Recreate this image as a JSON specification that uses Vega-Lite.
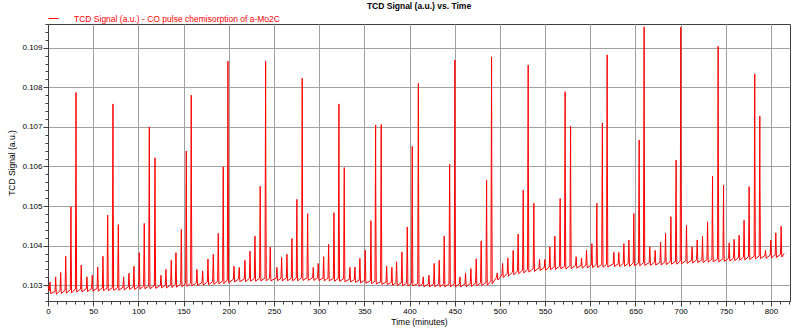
{
"$schema": "https://vega.github.io/schema/vega-lite/v6.json",
"width": 742, "height": 277,
"autosize": {"type": "none"},
"padding": {"left": 48, "top": 24, "right": 10, "bottom": 33},
"background": "white",
"config": {"font": "Liberation Sans", "view": {"stroke": "#404040", "strokeWidth": 1}},
"title": {"text": "TCD Signal (a.u.) vs. Time", "fontSize": 8.5, "fontWeight": "bold", "color": "#000000", "anchor": "middle", "offset": 3},
"data": {"values": [
{"t":0,"v":0.10298},
{"t":1.5,"v":0.10286},{"t":2.2,"v":0.10308},{"t":2.9,"v":0.10279},
{"t":7.8,"v":0.10284},{"t":8.5,"v":0.10321},{"t":9.2,"v":0.10277},
{"t":13.3,"v":0.10286},{"t":14.0,"v":0.10332},{"t":14.7,"v":0.10279},
{"t":18.9,"v":0.10287},{"t":19.6,"v":0.10373},{"t":20.3,"v":0.1028},
{"t":24.7,"v":0.10288},{"t":25.4,"v":0.10498},{"t":25.6,"v":0.10399},{"t":26.1,"v":0.10281},
{"t":30.3,"v":0.1029},{"t":31.0,"v":0.10787},{"t":31.2,"v":0.1054},{"t":31.7,"v":0.10283},
{"t":36.1,"v":0.1029},{"t":36.8,"v":0.10351},{"t":37.5,"v":0.10283},
{"t":42.4,"v":0.10291},{"t":43.1,"v":0.10321},{"t":43.8,"v":0.10284},
{"t":48.3,"v":0.10292},{"t":49.0,"v":0.10325},{"t":49.7,"v":0.10285},
{"t":54.3,"v":0.10292},{"t":55.0,"v":0.10346},{"t":55.7,"v":0.10285},
{"t":60.1,"v":0.10293},{"t":60.8,"v":0.10373},{"t":61.5,"v":0.10286},
{"t":65.3,"v":0.10293},{"t":66.0,"v":0.10477},{"t":66.7,"v":0.10286},
{"t":71.2,"v":0.10294},{"t":71.7,"v":0.10639},{"t":71.9,"v":0.10758},{"t":72.1,"v":0.10533},{"t":72.6,"v":0.10287},
{"t":77.1,"v":0.10294},{"t":77.8,"v":0.10453},{"t":78.0,"v":0.10405},{"t":78.5,"v":0.10287},
{"t":83.0,"v":0.10295},{"t":83.7,"v":0.10321},{"t":84.4,"v":0.10288},
{"t":88.9,"v":0.10296},{"t":89.6,"v":0.1033},{"t":90.3,"v":0.10289},
{"t":94.4,"v":0.10296},{"t":95.1,"v":0.10348},{"t":95.8,"v":0.10289},
{"t":100.3,"v":0.10297},{"t":101.0,"v":0.10382},{"t":101.7,"v":0.1029},
{"t":105.8,"v":0.10298},{"t":106.5,"v":0.10456},{"t":107.2,"v":0.10291},
{"t":111.4,"v":0.10298},{"t":112.1,"v":0.107},{"t":112.3,"v":0.10508},{"t":112.8,"v":0.10291},
{"t":117.7,"v":0.10299},{"t":118.4,"v":0.10622},{"t":118.6,"v":0.10471},{"t":119.1,"v":0.10292},
{"t":124.3,"v":0.103},{"t":125.0,"v":0.10325},{"t":125.7,"v":0.10293},
{"t":129.8,"v":0.103},{"t":130.5,"v":0.1034},{"t":131.2,"v":0.10293},
{"t":135.7,"v":0.10301},{"t":136.4,"v":0.10363},{"t":137.1,"v":0.10294},
{"t":140.9,"v":0.10302},{"t":141.6,"v":0.10382},{"t":142.3,"v":0.10295},
{"t":146.8,"v":0.10303},{"t":147.5,"v":0.10441},{"t":148.2,"v":0.10296},
{"t":152.3,"v":0.10304},{"t":153.0,"v":0.10639},{"t":153.2,"v":0.10483},{"t":153.7,"v":0.10297},
{"t":157.8,"v":0.10305},{"t":158.5,"v":0.1078},{"t":158.7,"v":0.10553},{"t":159.2,"v":0.10298},
{"t":164.1,"v":0.10306},{"t":164.8,"v":0.1034},{"t":165.5,"v":0.10299},
{"t":170.4,"v":0.10307},{"t":171.1,"v":0.10336},{"t":171.8,"v":0.103},
{"t":176.3,"v":0.10308},{"t":177.0,"v":0.10366},{"t":177.7,"v":0.10301},
{"t":182.2,"v":0.10309},{"t":182.9,"v":0.10378},{"t":183.6,"v":0.10302},
{"t":187.7,"v":0.1031},{"t":188.4,"v":0.10431},{"t":189.1,"v":0.10303},
{"t":193.2,"v":0.10311},{"t":193.9,"v":0.10599},{"t":194.1,"v":0.10466},{"t":194.6,"v":0.10304},
{"t":198.4,"v":0.10313},{"t":199.1,"v":0.10866},{"t":199.3,"v":0.10734},{"t":199.8,"v":0.10306},
{"t":205.1,"v":0.10315},{"t":205.8,"v":0.10348},{"t":206.5,"v":0.10308},
{"t":210.9,"v":0.10316},{"t":211.6,"v":0.10345},{"t":212.3,"v":0.10309},
{"t":217.2,"v":0.10316},{"t":217.9,"v":0.10363},{"t":218.6,"v":0.10309},
{"t":222.8,"v":0.10317},{"t":223.5,"v":0.10386},{"t":224.2,"v":0.1031},
{"t":228.3,"v":0.10317},{"t":229.0,"v":0.10424},{"t":229.7,"v":0.1031},
{"t":234.1,"v":0.10318},{"t":234.8,"v":0.1055},{"t":235.0,"v":0.10441},{"t":235.5,"v":0.10311},
{"t":240.1,"v":0.10318},{"t":240.8,"v":0.10866},{"t":241.0,"v":0.10603},{"t":241.5,"v":0.10311},
{"t":245.2,"v":0.10318},{"t":245.9,"v":0.10396},{"t":246.6,"v":0.10311},
{"t":252.6,"v":0.10318},{"t":253.3,"v":0.10345},{"t":254.0,"v":0.10311},
{"t":257.8,"v":0.10318},{"t":258.5,"v":0.1037},{"t":259.2,"v":0.10311},
{"t":263.7,"v":0.10318},{"t":264.4,"v":0.10378},{"t":265.1,"v":0.10311},
{"t":269.2,"v":0.10318},{"t":269.9,"v":0.10418},{"t":270.6,"v":0.10311},
{"t":274.7,"v":0.10318},{"t":275.4,"v":0.10517},{"t":275.6,"v":0.10415},{"t":276.1,"v":0.10311},
{"t":280.6,"v":0.10319},{"t":281.3,"v":0.10823},{"t":281.5,"v":0.10578},{"t":282.0,"v":0.10312},
{"t":286.6,"v":0.10319},{"t":287.3,"v":0.10481},{"t":287.5,"v":0.104},{"t":288.0,"v":0.10312},
{"t":292.8,"v":0.10319},{"t":293.5,"v":0.10345},{"t":294.2,"v":0.10312},
{"t":298.3,"v":0.10319},{"t":299.0,"v":0.10355},{"t":299.7,"v":0.10312},
{"t":304.3,"v":0.10318},{"t":305.0,"v":0.10372},{"t":305.7,"v":0.10311},
{"t":309.8,"v":0.10318},{"t":310.5,"v":0.10403},{"t":311.2,"v":0.10311},
{"t":315.7,"v":0.10317},{"t":316.4,"v":0.10483},{"t":317.1,"v":0.1031},
{"t":321.2,"v":0.10317},{"t":321.9,"v":0.10758},{"t":322.1,"v":0.10536},{"t":322.6,"v":0.1031},
{"t":327.1,"v":0.10316},{"t":327.8,"v":0.10597},{"t":328.0,"v":0.10456},{"t":328.5,"v":0.10309},
{"t":333.4,"v":0.10315},{"t":334.1,"v":0.10345},{"t":334.8,"v":0.10308},
{"t":338.9,"v":0.10314},{"t":339.6,"v":0.10346},{"t":340.3,"v":0.10307},
{"t":344.4,"v":0.10313},{"t":345.1,"v":0.10368},{"t":345.8,"v":0.10306},
{"t":350.3,"v":0.10312},{"t":351.0,"v":0.10388},{"t":351.7,"v":0.10305},
{"t":356.6,"v":0.10311},{"t":357.3,"v":0.10463},{"t":358.0,"v":0.10304},
{"t":361.8,"v":0.1031},{"t":362.5,"v":0.10705},{"t":362.7,"v":0.10515},{"t":363.2,"v":0.10303},
{"t":368.0,"v":0.10309},{"t":368.7,"v":0.10706},{"t":368.9,"v":0.10502},{"t":369.4,"v":0.10302},
{"t":374.0,"v":0.10308},{"t":374.7,"v":0.10348},{"t":375.4,"v":0.10301},
{"t":379.8,"v":0.10307},{"t":380.5,"v":0.10345},{"t":381.2,"v":0.103},
{"t":385.0,"v":0.10306},{"t":385.7,"v":0.10359},{"t":386.4,"v":0.10299},
{"t":390.9,"v":0.10306},{"t":391.6,"v":0.10384},{"t":392.3,"v":0.10299},
{"t":396.8,"v":0.10305},{"t":397.5,"v":0.10447},{"t":398.2,"v":0.10298},
{"t":402.3,"v":0.10305},{"t":403.0,"v":0.10651},{"t":403.2,"v":0.10485},{"t":403.7,"v":0.10298},
{"t":409.1,"v":0.10304},{"t":409.8,"v":0.1081},{"t":410.0,"v":0.10565},{"t":410.5,"v":0.10297},
{"t":414.5,"v":0.10303},{"t":415.2,"v":0.10321},{"t":415.9,"v":0.10296},
{"t":420.8,"v":0.10303},{"t":421.5,"v":0.10325},{"t":422.2,"v":0.10296},
{"t":426.6,"v":0.10303},{"t":427.3,"v":0.10355},{"t":428.0,"v":0.10296},
{"t":432.2,"v":0.10303},{"t":432.9,"v":0.10363},{"t":433.6,"v":0.10296},
{"t":437.7,"v":0.10303},{"t":438.4,"v":0.10424},{"t":439.1,"v":0.10296},
{"t":443.7,"v":0.10303},{"t":444.4,"v":0.10606},{"t":444.6,"v":0.10532},{"t":445.1,"v":0.10296},
{"t":449.5,"v":0.10303},{"t":450.2,"v":0.10869},{"t":450.4,"v":0.10584},{"t":450.9,"v":0.10296},
{"t":455.1,"v":0.10303},{"t":455.8,"v":0.10321},{"t":456.5,"v":0.10296},
{"t":461.3,"v":0.10303},{"t":462.0,"v":0.10331},{"t":462.7,"v":0.10296},
{"t":467.2,"v":0.10304},{"t":467.9,"v":0.10342},{"t":468.6,"v":0.10297},
{"t":473.1,"v":0.10305},{"t":473.8,"v":0.10367},{"t":474.5,"v":0.10298},
{"t":478.6,"v":0.10306},{"t":479.3,"v":0.10412},{"t":480.0,"v":0.10299},
{"t":484.6,"v":0.10307},{"t":485.3,"v":0.10565},{"t":485.5,"v":0.10439},{"t":486.0,"v":0.103},
{"t":490.1,"v":0.1031},{"t":490.8,"v":0.10877},{"t":491.0,"v":0.10593},{"t":491.5,"v":0.10303},
{"t":496.3,"v":0.1032},{"t":497.0,"v":0.10331},{"t":497.7,"v":0.10313},
{"t":502.3,"v":0.10326},{"t":503.0,"v":0.10355},{"t":503.7,"v":0.10319},
{"t":508.1,"v":0.1033},{"t":508.8,"v":0.10369},{"t":509.5,"v":0.10323},
{"t":514.0,"v":0.10333},{"t":514.7,"v":0.10388},{"t":515.4,"v":0.10326},
{"t":519.5,"v":0.10336},{"t":520.2,"v":0.10429},{"t":520.9,"v":0.10329},
{"t":525.1,"v":0.10338},{"t":525.8,"v":0.1054},{"t":526.0,"v":0.10443},{"t":526.5,"v":0.10331},
{"t":530.6,"v":0.1034},{"t":531.3,"v":0.10856},{"t":531.5,"v":0.10603},{"t":532.0,"v":0.10333},
{"t":536.9,"v":0.10342},{"t":537.6,"v":0.10507},{"t":537.8,"v":0.10422},{"t":538.3,"v":0.10335},
{"t":543.2,"v":0.10344},{"t":543.9,"v":0.10365},{"t":544.6,"v":0.10337},
{"t":549.1,"v":0.10345},{"t":549.8,"v":0.10365},{"t":550.5,"v":0.10338},
{"t":554.6,"v":0.10346},{"t":555.3,"v":0.10397},{"t":556.0,"v":0.10339},
{"t":560.1,"v":0.10347},{"t":560.8,"v":0.10424},{"t":561.5,"v":0.1034},
{"t":566.0,"v":0.10348},{"t":566.7,"v":0.10519},{"t":566.9,"v":0.10439},{"t":567.4,"v":0.10341},
{"t":571.5,"v":0.10348},{"t":572.0,"v":0.10684},{"t":572.2,"v":0.10789},{"t":572.4,"v":0.10565},{"t":572.9,"v":0.10341},
{"t":577.5,"v":0.10349},{"t":578.2,"v":0.10702},{"t":578.4,"v":0.10532},{"t":578.9,"v":0.10342},
{"t":583.7,"v":0.1035},{"t":584.4,"v":0.10372},{"t":585.1,"v":0.10343},
{"t":589.7,"v":0.1035},{"t":590.4,"v":0.10368},{"t":591.1,"v":0.10343},
{"t":595.2,"v":0.10351},{"t":595.9,"v":0.10388},{"t":596.6,"v":0.10344},
{"t":601.1,"v":0.10351},{"t":601.8,"v":0.10405},{"t":602.5,"v":0.10344},
{"t":606.6,"v":0.10352},{"t":607.3,"v":0.10507},{"t":607.5,"v":0.1042},{"t":608.0,"v":0.10345},
{"t":612.7,"v":0.10352},{"t":613.4,"v":0.1071},{"t":613.6,"v":0.10542},{"t":614.1,"v":0.10345},
{"t":618.0,"v":0.10353},{"t":618.7,"v":0.10882},{"t":618.9,"v":0.10629},{"t":619.4,"v":0.10346},
{"t":625.4,"v":0.10354},{"t":626.1,"v":0.10383},{"t":626.8,"v":0.10347},
{"t":630.9,"v":0.10354},{"t":631.6,"v":0.10383},{"t":632.3,"v":0.10347},
{"t":636.5,"v":0.10355},{"t":637.2,"v":0.10405},{"t":637.9,"v":0.10348},
{"t":642.0,"v":0.10355},{"t":642.7,"v":0.10414},{"t":643.4,"v":0.10348},
{"t":647.5,"v":0.10356},{"t":648.2,"v":0.10481},{"t":648.9,"v":0.10349},
{"t":653.4,"v":0.10356},{"t":654.1,"v":0.10667},{"t":654.3,"v":0.10515},{"t":654.8,"v":0.10349},
{"t":658.9,"v":0.10357},{"t":659.6,"v":0.10953},{"t":659.8,"v":0.10667},{"t":660.3,"v":0.1035},
{"t":665.2,"v":0.10357},{"t":665.9,"v":0.10397},{"t":666.6,"v":0.1035},
{"t":671.1,"v":0.10358},{"t":671.8,"v":0.10388},{"t":672.5,"v":0.10351},
{"t":677.1,"v":0.10358},{"t":677.8,"v":0.10409},{"t":678.5,"v":0.10351},
{"t":682.6,"v":0.10359},{"t":683.3,"v":0.10431},{"t":684.0,"v":0.10352},
{"t":688.5,"v":0.1036},{"t":689.2,"v":0.10473},{"t":689.9,"v":0.10353},
{"t":694.3,"v":0.1036},{"t":695.0,"v":0.10616},{"t":695.2,"v":0.1049},{"t":695.7,"v":0.10353},
{"t":699.5,"v":0.10361},{"t":700.0,"v":0.1081},{"t":700.2,"v":0.10952},{"t":700.4,"v":0.10658},{"t":700.9,"v":0.10354},
{"t":705.8,"v":0.10362},{"t":706.5,"v":0.10452},{"t":706.7,"v":0.1042},{"t":707.2,"v":0.10355},
{"t":712.0,"v":0.10363},{"t":712.7,"v":0.10397},{"t":713.4,"v":0.10356},
{"t":717.6,"v":0.10364},{"t":718.3,"v":0.10414},{"t":719.0,"v":0.10357},
{"t":723.5,"v":0.10364},{"t":724.2,"v":0.10424},{"t":724.9,"v":0.10357},
{"t":729.1,"v":0.10365},{"t":729.8,"v":0.1046},{"t":730.5,"v":0.10358},
{"t":734.6,"v":0.10366},{"t":735.3,"v":0.10576},{"t":735.5,"v":0.1046},{"t":736.0,"v":0.10359},
{"t":740.8,"v":0.10366},{"t":741.5,"v":0.10904},{"t":741.7,"v":0.10641},{"t":742.2,"v":0.10359},
{"t":746.8,"v":0.10367},{"t":747.5,"v":0.10553},{"t":747.7,"v":0.1044},{"t":748.2,"v":0.1036},
{"t":753.0,"v":0.10368},{"t":753.7,"v":0.10407},{"t":754.4,"v":0.10361},
{"t":758.5,"v":0.10369},{"t":759.2,"v":0.10416},{"t":759.9,"v":0.10362},
{"t":764.0,"v":0.1037},{"t":764.7,"v":0.10426},{"t":765.4,"v":0.10363},
{"t":769.5,"v":0.10371},{"t":770.2,"v":0.10464},{"t":770.9,"v":0.10364},
{"t":775.1,"v":0.10372},{"t":775.8,"v":0.10549},{"t":776.0,"v":0.10455},{"t":776.5,"v":0.10365},
{"t":781.3,"v":0.10373},{"t":782.0,"v":0.10834},{"t":782.2,"v":0.10612},{"t":782.7,"v":0.10366},
{"t":786.9,"v":0.10374},{"t":787.6,"v":0.10727},{"t":787.8,"v":0.10561},{"t":788.3,"v":0.10367},
{"t":793.2,"v":0.10375},{"t":793.9,"v":0.10388},{"t":794.6,"v":0.10368},
{"t":799.1,"v":0.10376},{"t":799.8,"v":0.10414},{"t":800.5,"v":0.10369},
{"t":804.6,"v":0.10377},{"t":805.3,"v":0.10432},{"t":806.0,"v":0.1037},
{"t":810.5,"v":0.10378},{"t":811.2,"v":0.10449},{"t":811.9,"v":0.10371},
{"t":814.5,"v":0.1038}
]},
"mark": {"type": "line", "strokeWidth": 1, "interpolate": "linear"},
"encoding": {
  "x": {"field": "t", "type": "quantitative", "sort": null,
    "scale": {"domain": [0, 821], "nice": false, "zero": false},
    "axis": {"title": "Time (minutes)", "titleFontSize": 8.5, "titleFontWeight": "normal", "titleColor": "#000000", "titlePadding": 2,
      "values": [0,10,20,30,40,50,60,70,80,90,100,110,120,130,140,150,160,170,180,190,200,210,220,230,240,250,260,270,280,290,300,310,320,330,340,350,360,370,380,390,400,410,420,430,440,450,460,470,480,490,500,510,520,530,540,550,560,570,580,590,600,610,620,630,640,650,660,670,680,690,700,710,720,730,740,750,760,770,780,790,800,810,820],
      "labelExpr": "datum.value % 50 === 0 ? datum.label : ''", "format": "d",
      "labelFontSize": 8, "labelColor": "#000000", "labelPadding": 1, "labelOverlap": false, "labelFlush": false,
      "tickSize": {"condition": {"test": "datum.value % 50 === 0", "value": 5}, "value": 3},
      "tickColor": "#404040", "domainColor": "#404040",
      "grid": true, "gridColor": "#a0a0a0", "gridWidth": 1,
      "gridOpacity": {"condition": {"test": "datum.value % 50 === 0", "value": 1}, "value": 0}}},
  "y": {"field": "v", "type": "quantitative",
    "scale": {"domain": [0.1026, 0.1096], "nice": false, "zero": false},
    "axis": {"title": "TCD Signal (a.u.)", "titleFontSize": 8.5, "titleFontWeight": "normal", "titleColor": "#000000", "titlePadding": 5,
      "values": [0.1026,0.1028,0.103,0.1032,0.1034,0.1036,0.1038,0.104,0.1042,0.1044,0.1046,0.1048,0.105,0.1052,0.1054,0.1056,0.1058,0.106,0.1062,0.1064,0.1066,0.1068,0.107,0.1072,0.1074,0.1076,0.1078,0.108,0.1082,0.1084,0.1086,0.1088,0.109,0.1092,0.1094,0.1096],
      "labelExpr": "abs(datum.value*1000 - round(datum.value*1000)) < 0.001 ? format(datum.value, '.3f') : ''",
      "labelFontSize": 8, "labelColor": "#000000", "labelPadding": 1, "labelOverlap": false, "labelFlush": false,
      "tickSize": {"condition": {"test": "abs(datum.value*1000 - round(datum.value*1000)) < 0.001", "value": 5}, "value": 3},
      "tickColor": "#404040", "domainColor": "#404040",
      "grid": true, "gridColor": "#a0a0a0", "gridWidth": 1,
      "gridOpacity": {"condition": {"test": "abs(datum.value*1000 - round(datum.value*1000)) < 0.001", "value": 1}, "value": 0}}},
  "color": {"datum": "TCD Signal (a.u.) - CO pulse chemisorption of a-Mo2C", "type": "nominal",
    "scale": {"range": ["#ff0000"]},
    "legend": {"title": null, "orient": "none", "legendX": 0, "legendY": -11, "padding": 0,
      "symbolType": "stroke", "symbolSize": 100, "symbolStrokeWidth": 1, "labelOffset": 15, "labelLimit": 0,
      "labelFontSize": 8.5, "labelColor": "#ff0000", "labelFont": "Liberation Sans"}}
}
}
